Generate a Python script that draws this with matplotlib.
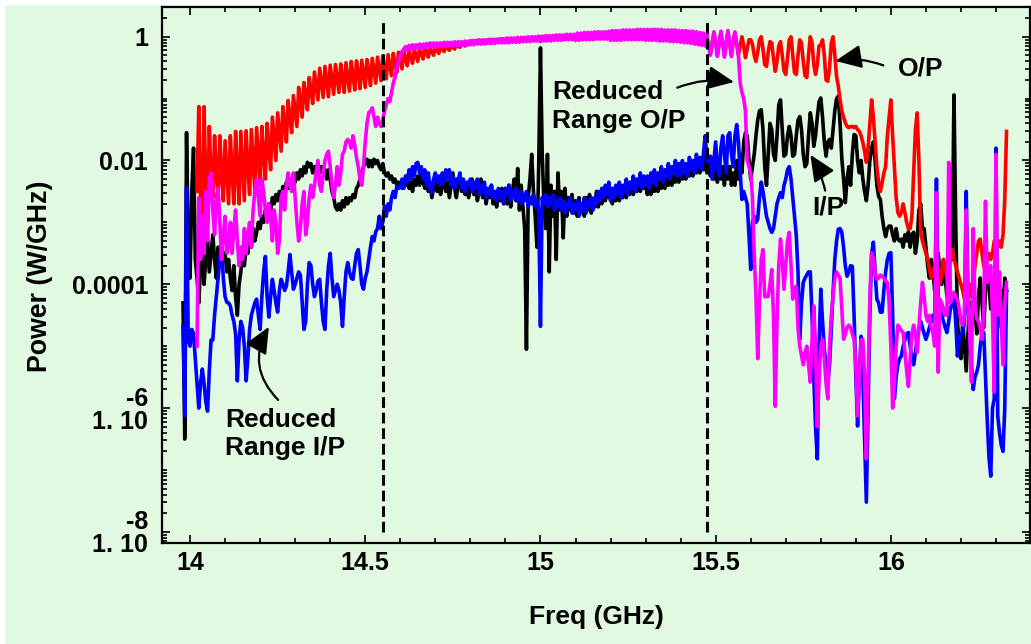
import numpy as np
import matplotlib
matplotlib.use('Agg')
import matplotlib.pyplot as plt
from matplotlib.patches import Rectangle
from matplotlib.ticker import MultipleLocator, LogLocator, NullFormatter

plt.rcParams['font.family'] = ['Liberation Sans', 'DejaVu Sans']
plt.rcParams['font.weight'] = 'bold'

nan = np.nan

f_start, f_step, n_pts = 13.98, 0.005, 471

black_log = [
    -4.3, -6.5, -1.55, -3.5,
    -3.9, -2.5, -1.8, -3.6, -3.9, -4.3, -3.7, -3.5, -4.0, -3.6, -3.3, -3.8, -3.5, -3.2, -3.6, -3.9, -3.4, -3.7, -3.3, -3.6,
    -3.5, -3.8, -3.6, -3.9, -4.1, -3.7, -4.2, -4.5, -4.0, -3.8, -3.5, -3.7, -3.4, -3.5, -3.2, -3.4, -3.1, -3.3, -3.16, -3.0,
    -3.1, -2.9, -3.0, -2.8, -2.9, -2.7, -2.8, -2.6, -2.7, -2.55, -2.65, -2.5, -2.6, -2.42, -2.5, -2.35, -2.45, -2.3, -2.4, -2.25,
    -2.35, -2.2, -2.3, -2.15, -2.25, -2.1, -2.2, -2.03, -2.1, -2.05, -2.2, -2.1, -2.15, -2.05, -2.2, -2.1, -2.2, -2.15, -2.3, -2.15,
    -2.3, -2.5, -2.6, -2.75, -2.8, -2.7, -2.8, -2.65, -2.75, -2.6, -2.7, -2.6, -2.65, -2.55, -2.6, -2.45, -2.4, -2.3, -2.2, -2.1,
    -2.05, -1.98, -2.1, -2.0, -2.1, -1.98, -2.05, -2.0, -2.1, -2.15, -2.05, -2.2, -2.25, -2.2, -2.3, -2.25, -2.35, -2.3, -2.4, -2.35,
    -2.4, -2.45, -2.35, -2.4, -2.3, -2.45, -2.35, -2.5, -2.3, -2.4, -2.25, -2.4, -2.2, -2.35, -2.45, -2.3, -2.5, -2.35, -2.6, -2.45,
    -2.3, -2.5, -2.35, -2.55, -2.4, -2.3, -2.5, -2.35, -2.6, -2.4, -2.2, -2.45, -2.6, -2.4, -2.25, -2.5, -2.35, -2.55, -2.4, -2.6,
    -2.45, -2.3, -2.55, -2.4, -2.65, -2.5, -2.3, -2.6, -2.45, -2.7, -2.5, -2.6, -2.4, -2.7, -2.55, -2.75, -2.5, -2.65, -2.45, -2.7,
    -2.45, -2.7, -2.4, -2.75, -2.5, -2.3, -2.65, -2.13, -2.8, -2.4, -2.75, -3.1, -5.05, -2.6, -2.3, -1.9, -2.5, -2.9, -3.4, -2.1,
    -0.18, -1.9, -2.7, -3.1, -1.9, -3.8, -2.4, -2.9, -2.5, -3.6, -2.2, -2.8, -2.5, -3.25, -2.45, -2.9, -2.6, -2.8, -2.55, -2.85,
    -2.65, -2.9, -2.6, -2.85, -2.7, -2.9, -2.6, -2.8, -2.55, -2.85, -2.65, -2.75, -2.5, -2.75, -2.55, -2.7, -2.45, -2.65, -2.5, -2.6,
    -2.5, -2.7, -2.55, -2.65, -2.45, -2.65, -2.5, -2.6, -2.4, -2.6, -2.45, -2.55, -2.35, -2.55, -2.4, -2.5, -2.3, -2.5, -2.35, -2.45,
    -2.4, -2.55, -2.35, -2.55, -2.4, -2.5, -2.3, -2.5, -2.35, -2.45, -2.25, -2.45, -2.3, -2.4, -2.2, -2.4, -2.25, -2.35, -2.15, -2.35,
    -2.2, -2.3, -2.1, -2.3, -2.15, -2.25, -2.05, -2.25, -2.1, -2.2, -2.0, -2.2, -2.05, -2.15, -1.95, -2.2, -2.0, -2.25, -2.05, -2.3,
    -2.1, -2.35, -2.0, -2.3, -2.1, -2.4, -2.0, -2.3, -2.1, -2.4, -2.2, -2.4, -2.0, -2.3, -1.9, -2.2, -1.7, -1.55, -1.6, -2.0,
    -2.3, -2.1, -1.9, -1.6, -1.35, -1.2, -1.18, -1.5, -2.1, -2.4, -1.9, -1.4, -1.5, -1.9, -2.0, -1.6, -1.1, -1.02, -1.5, -1.93,
    -1.9, -1.6, -1.45, -1.6, -1.93, -1.9, -1.6, -1.35, -1.29, -1.5, -1.9, -2.1, -2.05, -1.6, -1.23, -1.4, -1.77, -1.6, -1.3, -1.05,
    -0.99, -1.3, -1.7, -1.93, -1.7, -1.66, -1.8, -1.5, -1.2, -1.0, -0.96, -1.4, -1.97, -2.3, -2.68, -2.3, -2.1, -2.4, -1.9, -1.58,
    -1.6, -2.0, -2.2, -2.0, -2.3, -2.5, -2.65, -2.4, -2.0, -1.8, -1.7, -2.0, -2.4, -2.58, -2.63, -2.9, -3.1, -3.23, -3.1, -3.06,
    -3.06, -3.2, -3.3, -3.1, -3.27, -3.3, -3.27, -3.4, -3.2, -3.3, -3.15, -3.4, -3.2, -3.16, -3.5, -3.3, -2.8, -2.7, -3.1, -3.1,
    -3.4, -3.7, -3.9, -3.6, -3.8, -4.1, -3.7, -3.5, -3.8, -4.0, -3.6, -3.9, -4.2, -3.8, -3.5, -3.6, -0.94, -3.0, -4.6, -5.0,
    -5.2, -4.6, -5.0, -5.4, -4.8, -4.3, -4.6, -4.1, -4.4, -4.8, -4.2, -3.9, -4.3, -4.7, -4.1, -3.8, -4.0, -4.4, -4.2, -3.9,
    -4.3, -4.7, -4.4, -4.1, -4.5, -3.9, -4.1,
]

blue_log = [
    -4.68, -6.13, -2.44, -4.9,
    -5.0, -4.73, -4.8, -5.2, -5.6, -6.0, -5.6, -5.37, -5.6, -5.9, -6.05, -5.4, -4.9, -4.9, -4.5, -4.2, -3.9, -3.6, -3.4, -3.9,
    -4.2, -4.29, -4.3, -4.35, -4.5, -4.6, -4.8, -5.56, -4.9, -4.6, -4.7, -5.0, -5.56, -5.2, -4.73, -4.5, -4.4, -4.3, -4.24, -4.5,
    -4.73, -4.2, -3.8, -3.55, -4.2, -4.53, -4.2, -3.92, -4.1, -4.3, -4.45, -4.1, -3.92, -4.0, -4.1, -4.03, -3.8, -3.52, -3.8, -4.08,
    -4.0, -3.9, -3.8, -3.85, -4.3, -4.73, -4.6, -4.0, -3.65, -3.7, -4.0, -4.2, -4.1, -3.95, -3.92, -4.3, -4.6, -4.73, -4.1, -3.7,
    -3.5, -3.9, -4.2, -4.1, -4.0, -4.1, -4.3, -4.68, -4.2, -3.8, -3.65, -3.8, -3.9, -3.92, -3.7, -3.5, -3.44, -3.7, -4.0, -4.08,
    -3.9, -3.8, -3.6, -3.4, -3.23, -3.3, -3.15, -3.1, -2.9, -3.1, -3.0, -2.74, -2.9, -2.7, -2.8, -2.6, -2.5, -2.6, -2.42, -2.45,
    -2.42, -2.3, -2.45, -2.25, -2.35, -2.15, -2.3, -2.1, -2.25, -2.05, -2.03, -2.2, -2.1, -2.3, -2.15, -2.4, -2.2, -2.45, -2.52, -2.3,
    -2.2, -2.35, -2.25, -2.4, -2.2, -2.35, -2.15, -2.3, -2.15, -2.4, -2.25, -2.45, -2.3, -2.35, -2.2, -2.45, -2.3, -2.5, -2.35, -2.4,
    -2.3, -2.5, -2.35, -2.45, -2.3, -2.55, -2.4, -2.5, -2.35, -2.6, -2.45, -2.55, -2.4, -2.6, -2.5, -2.65, -2.45, -2.6, -2.5, -2.7,
    -2.45, -2.55, -2.4, -2.65, -2.5, -2.6, -2.45, -2.65, -2.5, -2.7, -2.55, -2.65, -2.5, -2.75, -2.6, -2.7, -2.55, -2.75, -2.65, -2.8,
    -4.68, -2.6, -2.7, -2.55, -2.75, -2.6, -2.7, -2.55, -2.8, -2.65, -2.75, -2.6, -2.8, -2.65, -2.85, -2.7, -2.75, -2.6, -2.85, -2.7,
    -2.8, -2.65, -2.9, -2.7, -2.8, -2.6, -2.85, -2.65, -2.75, -2.6, -2.8, -2.6, -2.7, -2.5, -2.65, -2.45, -2.6, -2.4, -2.55, -2.35,
    -2.65, -2.45, -2.6, -2.4, -2.55, -2.35, -2.6, -2.4, -2.5, -2.3, -2.55, -2.35, -2.45, -2.25, -2.5, -2.3, -2.4, -2.2, -2.45, -2.25,
    -2.4, -2.25, -2.45, -2.2, -2.35, -2.15, -2.4, -2.2, -2.3, -2.1, -2.35, -2.15, -2.25, -2.05, -2.3, -2.1, -2.2, -2.0, -2.25, -2.05,
    -2.25, -2.0, -2.2, -2.05, -2.25, -1.95, -2.15, -2.0, -2.2, -1.9, -2.1, -1.95, -2.15, -1.9, -1.6, -1.95, -2.1, -1.93, -2.3, -2.0,
    -1.7, -2.1, -2.25, -1.8, -1.6, -1.9, -2.2, -1.6, -1.55, -1.9, -2.1, -1.6, -1.42, -1.7, -2.2, -2.63, -2.5, -2.6, -2.7, -3.2,
    -3.76, -3.0, -2.9, -3.0, -2.95, -2.6, -2.35, -2.5, -2.7, -2.9, -3.0, -3.1, -3.16, -3.1, -2.9, -2.7, -2.6, -2.52, -2.6, -2.4,
    -2.3, -2.15, -2.1, -2.3, -2.6, -2.9, -3.2, -3.8, -4.89, -4.3, -3.97, -3.9, -3.85, -3.8, -3.8, -4.5, -5.5, -6.3, -6.82, -5.0,
    -4.08, -4.6, -5.05, -5.3, -5.58, -5.3, -4.7, -4.13, -3.6, -3.3, -3.11, -3.1, -3.16, -3.4, -3.7, -3.87, -3.8, -3.7, -3.71, -4.5,
    -5.5, -6.29, -5.5, -4.84, -5.5, -6.5, -7.52, -6.0, -4.5, -3.5, -3.32, -3.8, -4.24, -4.3, -4.45, -4.45, -4.1, -3.8, -3.6, -3.5,
    -3.49, -4.5, -5.85, -5.5, -5.3, -5.2, -5.16, -5.0, -4.9, -4.8, -4.78, -5.0, -5.2, -5.3, -5.1, -4.9, -4.7, -4.6, -4.7, -4.8,
    -4.89, -4.8, -4.7, -4.6, -4.5, -4.6, -2.3, -4.4, -4.4, -4.5, -4.6, -4.7, -4.78, -4.6, -4.4, -4.3, -4.24, -4.6, -5.16, -4.9,
    -4.8, -4.78, -4.6, -2.5, -4.35, -4.8, -5.3, -5.7, -5.5, -5.42, -5.3, -5.0, -4.8, -4.78, -5.5, -6.2, -6.8, -7.1, -6.0, -5.85,
    -1.8, -6.13, -6.4, -6.6, -6.7, -6.0, -4.08,
]

red_log = [
    nan, nan, nan, nan,
    nan, nan, nan, nan, -2.5, -1.13, -2.6, -3.4, -1.13, -2.4, -3.0, -1.45, -2.3, -2.6, -1.6, -2.2, -2.6, -1.6, -2.2, -2.65,
    -1.68, -2.2, -2.7, -1.6, -2.2, -2.7, -1.53, -2.2, -2.7, -1.53, -2.1, -2.65, -1.52, -2.1, -2.55, -1.5, -2.0, -2.5, -1.47, -1.95,
    -2.4, -1.45, -1.9, -2.3, -1.4, -1.8, -2.15, -1.3, -1.65, -2.0, -1.23, -1.55, -1.85, -1.13, -1.4, -1.7, -1.03, -1.3, -1.55, -0.95,
    -1.2, -1.45, -0.82, -1.05, -1.3, -0.74, -0.95, -1.18, -0.66, -0.85, -1.08, -0.57, -0.8, -1.02, -0.51, -0.75, -0.98, -0.48, -0.72, -0.97,
    -0.46, -0.7, -0.93, -0.45, -0.68, -0.9, -0.44, -0.66, -0.9, -0.42, -0.65, -0.88, -0.4, -0.62, -0.86, -0.39, -0.6, -0.84, -0.38, -0.6,
    -0.82, -0.37, -0.57, -0.79, -0.35, -0.55, -0.75, -0.33, -0.52, -0.71, -0.31, -0.5, -0.68, -0.29, -0.46, -0.63, -0.27, -0.44, -0.58, -0.25,
    -0.4, -0.52, -0.23, -0.36, -0.47, -0.22, -0.33, -0.43, -0.2, -0.3, -0.4, -0.19, -0.28, -0.36, -0.18, -0.26, -0.33, -0.17, -0.25, -0.3,
    -0.16, -0.22, -0.27, -0.15, -0.2, -0.24, -0.14, -0.19, -0.22, -0.13, -0.17, -0.2, -0.12, -0.15, -0.17, -0.11, -0.13, -0.15, -0.1, -0.12,
    -0.07, -0.11, -0.07, -0.11, -0.06, -0.10, -0.06, -0.10, -0.06, -0.10, -0.05, -0.09, -0.05, -0.09, -0.05, -0.09, -0.04, -0.08, -0.04, -0.08,
    -0.04, -0.08, -0.04, -0.08, -0.03, -0.07, -0.03, -0.07, -0.03, -0.07, -0.02, -0.06, -0.02, -0.06, -0.02, -0.06, -0.01, -0.05, -0.01, -0.05,
    -0.01, -0.05, 0.0, -0.05, 0.0, -0.04, 0.0, -0.04, 0.01, -0.04, 0.01, -0.03, 0.01, -0.03, 0.02, -0.03, 0.02, -0.02, 0.02, -0.02,
    0.03, -0.03, 0.03, -0.03, 0.04, -0.02, 0.04, -0.02, 0.04, -0.02, 0.05, -0.02, 0.05, -0.01, 0.05, -0.01, 0.05, -0.01, 0.06, -0.01,
    0.07, -0.03, 0.07, -0.03, 0.07, -0.03, 0.08, -0.03, 0.08, -0.02, 0.08, -0.02, 0.08, -0.02, 0.09, -0.02, 0.09, -0.02, 0.09, -0.02,
    0.09, -0.03, 0.09, -0.03, 0.09, -0.03, 0.09, -0.03, 0.09, -0.04, 0.08, -0.04, 0.08, -0.04, 0.08, -0.05, 0.08, -0.05, 0.07, -0.05,
    0.07, -0.06, 0.07, -0.07, 0.06, -0.07, 0.06, -0.08, 0.05, -0.09, 0.04, -0.10, 0.03, -0.11, 0.02, -0.12, -0.13, -0.27, -0.1, 0.05,
    -0.1, -0.3, -0.1, 0.06, -0.1, -0.3, -0.1, 0.07, -0.1, -0.3, -0.07, 0.05, -0.12, -0.3, -0.15, 0.0, -0.15, -0.34, -0.2, -0.05,
    -0.05, -0.12, -0.3, -0.4, -0.25, -0.05, 0.0, -0.2, -0.45, -0.48, -0.25, -0.08, -0.1, -0.35, -0.56, -0.4, -0.15, -0.08, -0.3, -0.55,
    -0.61, -0.35, -0.05, 0.0, -0.3, -0.58, -0.61, -0.3, -0.05, -0.1, -0.4, -0.63, -0.66, -0.3, 0.0, -0.1, -0.45, -0.61, -0.45, -0.15,
    -0.13, -0.05, -0.3, -0.7, -0.72, -0.5, -0.1, 0.0, -0.3, -0.64, -0.8, -1.02, -1.2, -1.3, -1.39, -1.45, -1.47, -1.45, -1.45, -1.47,
    -1.45, -1.5, -1.53, -1.6, -1.71, -1.85, -2.03, -1.8, -1.4, -1.02, -1.3, -1.71, -2.1, -2.36, -2.5, -2.36, -2.2, -2.1, -1.6, -1.3,
    -1.02, -1.6, -2.1, -2.6, -2.84, -2.9, -2.84, -2.7, -2.84, -3.0, -3.1, -3.1, -2.9, -2.2, -1.5, -1.23, -2.0, -3.16, -3.3, -3.4,
    -3.5, -3.6, -3.76, -3.9, -3.8, -3.7, -3.9, -4.0, -4.0, -3.8, -3.6, -3.75, -3.9, -3.7, -3.5, -3.44, -3.6, -3.7, -3.8, -3.9,
    -4.0, -4.1, -4.24, -4.2, -4.1, -4.0, -4.2, -4.0, -3.7, -3.5, -3.3, -3.27, -3.5, -3.7, -3.8, -3.6, -3.5, -3.6, -3.5, -3.3,
    -3.3, -3.4, -3.3, -3.4, -3.2, -2.63, -1.53,
]

magenta_log = [
    nan, nan, nan, nan,
    nan, nan, nan, nan, -5.0, -2.6, -3.6, -2.9, -3.5, -2.5, -3.3, -2.3, -2.2, -2.8, -3.2, -2.6, -2.45, -3.0, -3.6, -3.2,
    -2.9, -3.5, -3.4, -3.0, -3.5, -3.1, -2.8, -3.3, -3.7, -3.4, -3.6, -3.1, -3.5, -3.2, -3.0, -3.4, -2.8, -2.5, -2.3, -2.6,
    -2.9, -2.3, -2.5, -2.8, -3.0, -2.7, -2.9, -3.3, -2.8, -3.0, -3.5, -3.3, -2.6, -2.5, -2.8, -2.4, -2.2, -2.4, -2.5, -2.2,
    -2.6, -3.0, -3.3, -3.1, -2.7, -2.5, -3.2, -3.0, -2.6, -2.4, -2.6, -2.4, -2.2, -2.0, -2.4, -2.5, -2.2, -2.0, -1.9, -1.85,
    -2.1, -2.4, -2.6, -2.4, -2.1, -2.4, -2.2, -1.9, -1.85, -1.7, -1.66, -1.7, -1.8, -1.6, -1.75, -1.95, -2.1, -2.3, -2.4, -2.1,
    -1.7, -1.4, -1.23, -1.2, -1.15, -1.3, -1.45, -1.3, -1.4, -1.45, -1.35, -1.2, -1.1, -1.0, -1.05, -0.9, -0.75, -0.65, -0.5, -0.4,
    -0.3, -0.24, -0.2, -0.16, -0.22, -0.14, -0.2, -0.13, -0.2, -0.13, -0.19, -0.12, -0.19, -0.12, -0.18, -0.11, -0.17, -0.1, -0.16, -0.1,
    -0.17, -0.10, -0.16, -0.10, -0.16, -0.09, -0.16, -0.09, -0.15, -0.09, -0.15, -0.08, -0.15, -0.08, -0.14, -0.08, -0.14, -0.07, -0.14, -0.07,
    -0.13, -0.06, -0.13, -0.06, -0.12, -0.05, -0.12, -0.05, -0.12, -0.05, -0.11, -0.04, -0.11, -0.04, -0.11, -0.04, -0.10, -0.03, -0.10, -0.03,
    -0.10, -0.02, -0.10, -0.02, -0.09, -0.02, -0.09, -0.01, -0.09, -0.01, -0.08, -0.01, -0.08, 0.0, -0.08, 0.0, -0.07, 0.0, -0.07, 0.01,
    -0.08, 0.01, -0.07, 0.02, -0.07, 0.02, -0.07, 0.02, -0.06, 0.03, -0.06, 0.03, -0.06, 0.03, -0.05, 0.04, -0.05, 0.04, -0.05, 0.04,
    -0.06, 0.06, -0.06, 0.06, -0.05, 0.07, -0.05, 0.07, -0.05, 0.07, -0.05, 0.08, -0.04, 0.08, -0.04, 0.08, -0.04, 0.08, -0.04, 0.09,
    -0.06, 0.10, -0.06, 0.10, -0.06, 0.10, -0.06, 0.11, -0.05, 0.11, -0.05, 0.11, -0.05, 0.11, -0.05, 0.12, -0.05, 0.12, -0.05, 0.12,
    -0.06, 0.12, -0.06, 0.12, -0.06, 0.12, -0.06, 0.12, -0.07, 0.12, -0.07, 0.11, -0.07, 0.11, -0.08, 0.11, -0.08, 0.11, -0.08, 0.10,
    -0.09, 0.10, -0.10, 0.10, -0.10, 0.09, -0.11, 0.09, -0.12, 0.08, -0.13, 0.07, -0.14, 0.06, -0.15, 0.05, -0.16, -0.3, -0.1, 0.08,
    -0.1, -0.32, -0.1, 0.09, -0.1, -0.33, -0.1, 0.1, -0.1, -0.32, -0.05, 0.08, -0.1, -0.3, -0.75, -0.9, -1.0, -1.2, -2.0, -2.1,
    -2.2, -2.6, -3.5, -4.2, -5.2, -4.3, -3.6, -3.44, -4.2, -4.2, -4.2, -4.0, -3.76, -4.5, -5.97, -4.6, -3.7, -3.27, -3.6, -4.08,
    -3.7, -3.3, -3.16, -3.7, -4.24, -4.1, -4.03, -4.7, -5.0, -5.15, -5.3, -5.1, -5.0, -5.3, -5.58, -4.9, -4.35, -5.0, -6.3, -5.5,
    -5.0, -4.89, -5.2, -5.6, -5.85, -5.0, -4.5, -4.2, -3.9, -3.8, -3.85, -3.9, -4.4, -4.89, -4.8, -4.7, -4.66, -4.7, -4.8, -4.9,
    -5.3, -6.13, -5.5, -4.9, -4.89, -5.5, -6.82, -5.5, -4.2, -3.49, -3.6, -3.8, -3.92, -3.9, -3.85, -3.87, -3.9, -3.95, -3.97, -4.3,
    -5.0, -6.0, -5.6, -5.0, -4.66, -4.7, -4.75, -4.78, -5.1, -5.4, -5.65, -5.2, -4.8, -4.66, -4.8, -5.1, -4.7, -4.3, -3.97, -4.2,
    -4.5, -4.6, -4.5, -4.7, -4.78, -5.0, -2.52, -5.42, -4.24, -4.3, -4.4, -4.5, -4.5, -2.03, -4.3, -4.2, -4.13, -4.2, -4.24, -4.4,
    -4.6, -4.66, -4.5, -2.8, -4.19, -4.8, -5.58, -3.1, -4.3, -4.56, -4.6, -4.7, -4.89, -4.5, -2.66, -3.97, -3.8, -3.7, -4.5, -5.74,
    -1.9, -4.5, -3.8, -4.6, -5.3, -4.3, -3.97,
]

marker_freqs = [14.55, 15.475]

freq = f_start + f_step * np.arange(n_pts)
black = 10.0 ** np.array(black_log)
blue = 10.0 ** np.array(blue_log)
red = 10.0 ** np.array(red_log)
magenta = 10.0 ** np.array(magenta_log)

green = '#e1f8e1'
W, H = 1031, 644
fig = plt.figure(figsize=(W / 100, H / 100), dpi=100)
fig.patch.set_facecolor('white')
fig.add_artist(Rectangle((5 / W, 0), 1, (H - 5) / H, transform=fig.transFigure,
                         facecolor=green, edgecolor='none', zorder=-5))
ax = fig.add_axes([162 / W, 101 / H, 868 / W, 536 / H])
ax.set_facecolor(green)

lw = 2.6
ax.plot(freq, black, color='black', lw=lw, zorder=2)
ax.plot(freq, blue, color='#0000ff', lw=lw, zorder=3)
ax.plot(freq, red, color='#ff0000', lw=lw, zorder=4)
ax.plot(freq, magenta, color='#ff00ff', lw=lw, zorder=5)
for fm in marker_freqs:
    ax.axvline(fm, ymin=0.02, ymax=0.976, color='black', lw=2.2,
               ls=(0, (3.5, 1.6)), zorder=6)

ax.set_yscale('log')
ax.set_xlim(13.92, 16.397)
ax.set_ylim(10 ** -8.18, 10 ** 0.48)

ax.set_xticks([14, 14.5, 15, 15.5, 16])
ax.set_xticklabels(['14', '14.5', '15', '15.5', '16'])
ax.xaxis.set_minor_locator(MultipleLocator(0.1))
ax.set_yticks([1e-8, 1e-6, 1e-4, 1e-2, 1])
ylabels = ax.set_yticklabels(['-8\n1. 10', '-6\n1. 10', '0.0001', '0.01', '1'])
for t in ylabels:
    t.set_linespacing(0.95)
ax.yaxis.set_minor_locator(LogLocator(base=10, subs=np.arange(1, 10), numticks=50))
ax.yaxis.set_minor_formatter(NullFormatter())

ax.tick_params(which='both', direction='in', top=True, right=True, width=1.2)
ax.tick_params(which='major', length=6, labelsize=18)
ax.tick_params(which='minor', length=3.5)
ax.tick_params(axis='x', which='major', pad=6)
ax.tick_params(axis='y', which='major', pad=10)
for s in ax.spines.values():
    s.set_linewidth(1.6)

ax.set_xlabel('Freq (GHz)', fontsize=19, fontweight='bold')
ax.xaxis.set_label_coords(0.5, -0.115)
ax.set_ylabel('Power (W/GHz)', fontsize=19.3, fontweight='bold')
ax.yaxis.set_label_coords(-0.126, 0.498)

txt = dict(fontsize=19, fontweight='bold', ha='left', va='center',
           linespacing=1.25, zorder=8)
arr = dict(arrowstyle='-|>,head_length=1.0,head_width=0.45', color='black',
           lw=1.6, mutation_scale=16)

ax.text(14.1, 10 ** -6.42, 'Reduced\nRange I/P', **txt)
ax.annotate('', xy=(14.229, 10 ** -4.65), xytext=(14.257, 10 ** -5.9),
            arrowprops=dict(connectionstyle='arc3,rad=-0.4', **arr), zorder=8)

ax.text(15.034, 10 ** -1.13, 'Reduced\nRange O/P', **txt)
ax.annotate('', xy=(15.56, 10 ** -0.74), xytext=(15.383, 10 ** -0.84),
            arrowprops=dict(connectionstyle='arc3,rad=-0.15', **arr), zorder=8)

ax.text(16.02, 10 ** -0.52, 'O/P', **txt)
ax.annotate('', xy=(15.834, 10 ** -0.4), xytext=(15.986, 10 ** -0.48),
            arrowprops=dict(connectionstyle='arc3,rad=0.15', **arr), zorder=8)

ax.text(15.777, 10 ** -2.76, 'I/P', **txt)
ax.annotate('', xy=(15.766, 10 ** -1.87), xytext=(15.814, 10 ** -2.53),
            arrowprops=dict(connectionstyle='arc3,rad=0.1', **arr), zorder=8)

fig.savefig('out.png', dpi=100, facecolor=fig.get_facecolor())
